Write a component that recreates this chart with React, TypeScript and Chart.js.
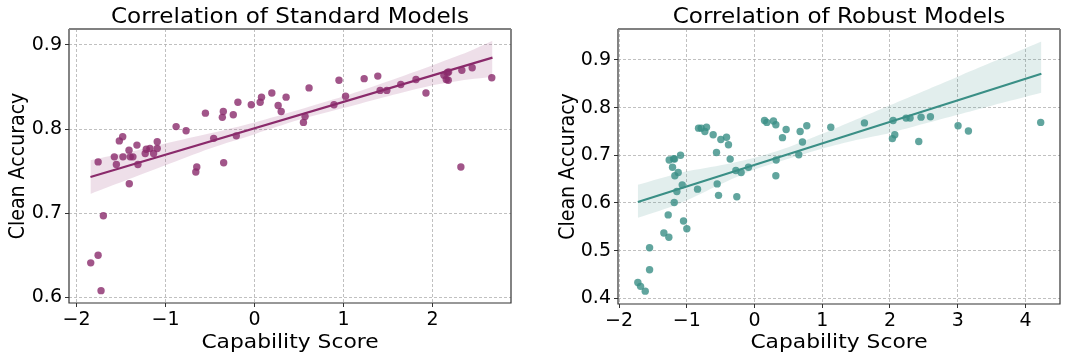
import React, { useEffect, useRef } from "react";
import { Chart, registerables } from "chart.js";

Chart.register(...registerables);

// ---------- Data: Standard models ----------
const stdX = [
  -1.84, -1.757, -1.724, -1.698, -1.757, -1.575, -1.552, -1.519, -1.481, -1.478,
  -1.407, -1.41, -1.396, -1.366, -1.321, -1.31, -1.228, -1.216, -1.175, -1.134,
  -1.093, -1.093, -0.881, -0.769, -0.66, -0.649, -0.552, -0.459, -0.362, -0.351,
  -0.347, -0.239, -0.205, -0.187, -0.037, 0.063, 0.078, 0.194, 0.265, 0.299,
  0.354, 0.549, 0.567, 0.612, 0.892, 0.948, 1.022, 1.231, 1.384, 1.41,
  1.485, 1.642, 1.813, 1.925, 2.127, 2.153, 2.164, 2.179, 2.175, 2.317,
  2.328, 2.444, 2.664,
];
const stdY = [
  0.641, 0.65, 0.608, 0.697, 0.761, 0.767, 0.758, 0.786, 0.791, 0.767,
  0.735, 0.775, 0.767, 0.767, 0.781, 0.758, 0.771, 0.776, 0.777, 0.771,
  0.785, 0.777, 0.803, 0.798, 0.749, 0.755, 0.819, 0.789, 0.814, 0.821,
  0.76, 0.817, 0.792, 0.832, 0.829, 0.832, 0.838, 0.843, 0.828, 0.821,
  0.838, 0.808, 0.815, 0.849, 0.829, 0.858, 0.839, 0.86, 0.863, 0.846,
  0.846, 0.853, 0.859, 0.843, 0.864, 0.859, 0.867, 0.868, 0.858, 0.755,
  0.87, 0.873, 0.861,
];
const stdFitX = [-1.843, 2.672];
const stdFitY = [0.743, 0.885];
const stdBandX = [-1.843, -1.4, -1.0, -0.5, 0, 0.5, 1.0, 1.5, 2.0, 2.4, 2.672];
const stdBandUpper = [0.763, 0.773, 0.783, 0.795, 0.808, 0.823, 0.839, 0.857, 0.876, 0.892, 0.905];
const stdBandLower = [0.723, 0.741, 0.757, 0.777, 0.794, 0.811, 0.825, 0.839, 0.852, 0.859, 0.862];
const stdXTicks = [-2, -1, 0, 1, 2];
const stdYTicks = [0.6, 0.7, 0.8, 0.9];

// ---------- Data: Robust models ----------
const robX = [
  -1.722, -1.682, -1.613, -1.549, -1.549, -1.338, -1.274, -1.264, -1.259, -1.21,
  -1.195, -1.18, -1.185, -1.176, -1.146, -1.126, -1.092, -1.067, -1.048, -0.999,
  -0.841, -0.826, -0.787, -0.733, -0.708, -0.61, -0.561, -0.551, -0.531, -0.497,
  -0.413, -0.384, -0.359, -0.275, -0.261, -0.197, -0.089, 0.148, 0.182, 0.28,
  0.315, 0.315, 0.32, 0.413, 0.467, 0.654, 0.674, 0.708, 0.772, 1.126,
  1.623, 2.036, 2.046, 2.071, 2.238, 2.297, 2.425, 2.459, 2.597, 3.005,
  3.158, 4.225,
];
const robY = [
  0.433, 0.425, 0.415, 0.506, 0.46, 0.537, 0.575, 0.528, 0.69, 0.675,
  0.693, 0.692, 0.601, 0.657, 0.624, 0.664, 0.7, 0.638, 0.562, 0.546,
  0.629, 0.757, 0.757, 0.75, 0.759, 0.743, 0.706, 0.64, 0.616, 0.733,
  0.738, 0.722, 0.692, 0.668, 0.613, 0.664, 0.675, 0.773, 0.769, 0.772,
  0.764, 0.657, 0.69, 0.737, 0.754, 0.701, 0.75, 0.728, 0.762, 0.759,
  0.768, 0.735, 0.773, 0.743, 0.778, 0.778, 0.729, 0.78, 0.781, 0.762,
  0.751, 0.769,
];
const robFitX = [-1.722, 4.235];
const robFitY = [0.602, 0.871];
const robBandX = [-1.722, -1.1, -0.5, 0, 0.5, 1.0, 1.5, 2.0, 2.5, 3.0, 3.5, 4.235];
const robBandUpper = [0.638, 0.663, 0.679, 0.695, 0.717, 0.745, 0.775, 0.805, 0.835, 0.865, 0.895, 0.939];
const robBandLower = [0.569, 0.599, 0.639, 0.67, 0.693, 0.714, 0.732, 0.747, 0.766, 0.785, 0.804, 0.831];
const robXTicks = [-2, -1, 0, 1, 2, 3, 4];
const robYTicks = [0.4, 0.5, 0.6, 0.7, 0.8, 0.9];

const FONT = "'DejaVu Sans', sans-serif";
const X_LABEL = "Capability Score";
const Y_LABEL = "Clean Accuracy";

type Panel = {
  title: string;
  xs: number[]; ys: number[];
  fitX: number[]; fitY: number[];
  bandX: number[]; bandUp: number[]; bandLo: number[];
  xTicks: number[]; yTicks: number[];
  xMin: number; xMax: number; yMin: number; yMax: number;
  rgb: string;
  left: number; width: number;
  yAxisWidth: number; xAxisHeight: number; padRight: number; padTop: number;
  yLabelX: number;
};

const pair = (xs: number[], ys: number[]) => xs.map((x, i) => ({ x, y: ys[i] }));
const fmtX = (v: number) => (v < 0 ? "\u2212" + Math.abs(v) : String(v));

function ChartPanel({ p }: { p: Panel }) {
  const ref = useRef<HTMLCanvasElement | null>(null);
  useEffect(() => {
    if (!ref.current) return;
    const framePlugin = {
      id: "frame",
      afterDatasetsDraw(chart: any) {
        const { ctx, chartArea: a } = chart;
        ctx.save();
        ctx.strokeStyle = "#333";
        ctx.lineWidth = 1.2;
        ctx.beginPath();
        ctx.moveTo(a.left, a.top);
        ctx.lineTo(a.left, a.bottom);
        ctx.lineTo(a.right, a.bottom);
        ctx.lineTo(a.right, a.top);
        ctx.stroke();
        ctx.strokeStyle = "#808080";
        ctx.lineWidth = 2;
        ctx.beginPath();
        ctx.moveTo(a.left, a.top);
        ctx.lineTo(a.right, a.top);
        ctx.stroke();
        ctx.restore();
      },
      afterDraw(chart: any) {
        const { ctx, chartArea: a } = chart;
        const cx = (a.left + a.right) / 2;
        const sx = 1.09;
        ctx.save();
        ctx.fillStyle = "#000";
        ctx.textAlign = "center";
        ctx.textBaseline = "alphabetic";
        // title
        ctx.save();
        ctx.translate(cx, 23);
        ctx.scale(1.1, 1);
        ctx.font = `21px ${FONT}`;
        ctx.fillText(p.title, 0, 0);
        ctx.restore();
        // x label
        ctx.save();
        ctx.translate(cx, 348);
        ctx.scale(sx, 1);
        ctx.font = `20px ${FONT}`;
        ctx.fillText(X_LABEL, 0, 0);
        ctx.restore();
        // y label
        ctx.save();
        ctx.translate(p.yLabelX, (a.top + a.bottom) / 2);
        ctx.scale(sx, 1);
        ctx.rotate(-Math.PI / 2);
        ctx.font = `19px ${FONT}`;
        ctx.fillText(Y_LABEL, 0, 0);
        ctx.restore();
        ctx.restore();
      },
    };
    const color = `rgb(${p.rgb})`;
    const chart = new Chart(ref.current, {
      type: "scatter",
      data: {
        datasets: [
          {
            label: "fit",
            type: "line",
            data: pair(p.fitX, p.fitY),
            borderColor: color,
            borderWidth: 2.2,
            pointRadius: 0,
            fill: false,
            order: 1,
          } as any,
          {
            label: "upper",
            type: "line",
            data: pair(p.bandX, p.bandUp),
            borderWidth: 0,
            borderColor: "rgba(0,0,0,0)",
            pointRadius: 0,
            backgroundColor: `rgba(${p.rgb},0.15)`,
            fill: "+1",
            tension: 0.3,
            order: 2,
          } as any,
          {
            label: "lower",
            type: "line",
            data: pair(p.bandX, p.bandLo),
            borderWidth: 0,
            borderColor: "rgba(0,0,0,0)",
            pointRadius: 0,
            fill: false,
            tension: 0.3,
            order: 2,
          } as any,
          {
            label: "points",
            data: pair(p.xs, p.ys),
            backgroundColor: `rgba(${p.rgb},0.8)`,
            borderWidth: 0,
            pointRadius: 3.7,
            order: 3,
          } as any,
        ],
      },
      options: {
        animation: false,
        responsive: false,
        devicePixelRatio: 1,
        events: [],
        layout: { padding: { top: p.padTop, right: p.padRight, bottom: 0, left: 0 } },
        plugins: { legend: { display: false }, tooltip: { enabled: false }, title: { display: false } },
        scales: {
          x: {
            type: "linear",
            min: p.xMin,
            max: p.xMax,
            afterBuildTicks: (s: any) => { s.ticks = p.xTicks.map((v) => ({ value: v })); },
            afterFit: (s: any) => { s.height = p.xAxisHeight; },
            grid: { color: "#b0b0b0", lineWidth: 0.8, tickColor: "#333", tickWidth: 1, tickLength: 4, tickBorderDash: [] },
            border: { display: false, dash: [3, 2] },
            ticks: {
              color: "#000", font: { family: FONT, size: 19 }, padding: 2, maxRotation: 0, autoSkip: false,
              callback: (v: any) => fmtX(Number(v)),
            },
          },
          y: {
            type: "linear",
            min: p.yMin,
            max: p.yMax,
            afterBuildTicks: (s: any) => { s.ticks = p.yTicks.map((v) => ({ value: v })); },
            afterFit: (s: any) => { s.width = p.yAxisWidth; },
            grid: { color: "#b0b0b0", lineWidth: 0.8, tickColor: "#333", tickWidth: 1, tickLength: 4, tickBorderDash: [] },
            border: { display: false, dash: [3, 2] },
            ticks: {
              color: "#000", font: { family: FONT, size: 19 }, padding: 3, autoSkip: false,
              callback: (v: any) => Number(v).toFixed(1),
            },
          },
        },
      },
      plugins: [framePlugin],
    } as any);
    return () => chart.destroy();
  }, [p]);
  return (
    <canvas
      ref={ref}
      width={p.width}
      height={358}
      style={{ position: "absolute", left: p.left, top: 0, width: p.width, height: 358 }}
    />
  );
}

const panels: Panel[] = [
  {
    title: "Correlation of Standard Models",
    xs: stdX, ys: stdY, fitX: stdFitX, fitY: stdFitY,
    bandX: stdBandX, bandUp: stdBandUpper, bandLo: stdBandLower,
    xTicks: stdXTicks, yTicks: stdYTicks,
    xMin: -2.084, xMax: 2.88, yMin: 0.5933, yMax: 0.919,
    rgb: "138,42,107",
    left: 0, width: 530, yAxisWidth: 69, xAxisHeight: 55, padRight: 19, padTop: 29,
    yLabelX: 24,
  },
  {
    title: "Correlation of Robust Models",
    xs: robX, ys: robY, fitX: robFitX, fitY: robFitY,
    bandX: robBandX, bandUp: robBandUpper, bandLo: robBandLower,
    xTicks: robXTicks, yTicks: robYTicks,
    xMin: -2.015, xMax: 4.51, yMin: 0.388, yMax: 0.965,
    rgb: "58,143,134",
    left: 535, width: 532, yAxisWidth: 83, xAxisHeight: 54, padRight: 7, padTop: 29,
    yLabelX: 39,
  },
];

export default function App() {
  return (
    <div style={{ position: "fixed", left: 0, top: 0, width: 1067, height: 358, background: "#fff" }}>
      {panels.map((p) => (
        <ChartPanel key={p.title} p={p} />
      ))}
    </div>
  );
}
